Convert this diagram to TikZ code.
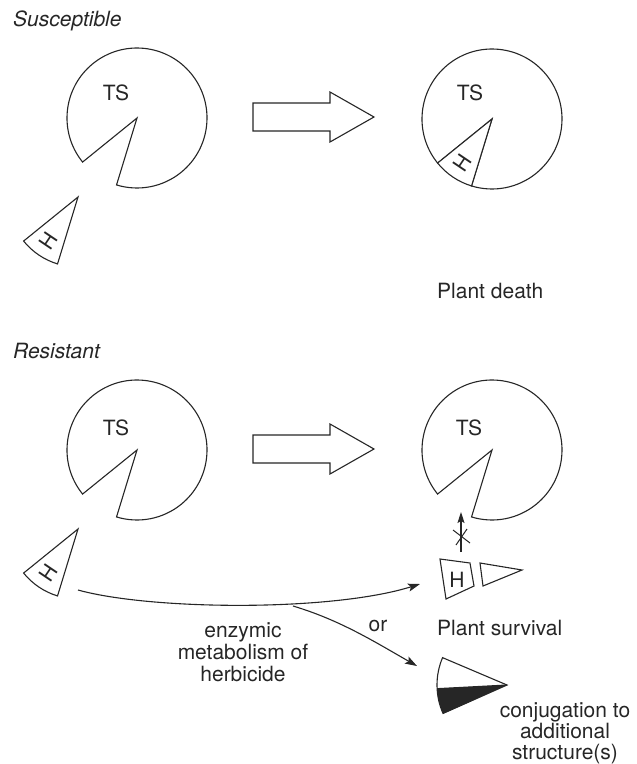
\documentclass[tikz,border=0pt]{standalone}
\usepackage{fontspec}
\setmainfont{TeX Gyre Heros}
\usetikzlibrary{arrows.meta,calc}
\definecolor{ink}{HTML}{262626}
\begin{document}
\begin{tikzpicture}[x=1pt,y=-1pt,
  outl/.style={draw=ink, line width=1.1pt, line join=miter},
  lbl/.style={font=\fontsize{21}{22}\selectfont, text=ink, inner sep=0pt},
  ttl/.style={font=\fontsize{21}{22}\selectfont\itshape, text=ink, inner sep=0pt, anchor=base west},
  conn/.style={draw=ink, line width=1.1pt, -{Stealth[length=12pt,width=8pt,inset=2.5pt]}},
  pacman/.pic={\draw[outl, fill=white] (0,0) -- (141:70) arc[start angle=141, end angle=467, radius=70] -- cycle;},
  hwedge/.pic={\draw[outl, fill=white] (0,0) -- (107:70) arc[start angle=107, end angle=141, radius=70] -- cycle;
               \node[lbl, rotate=56] at (124:53) {H};},
  blockarrow/.pic={\draw[outl, fill=white] (0,0) -- (77,0) -- (77,-11) -- (121,14) -- (77,39) -- (77,28) -- (0,28) -- cycle;}
]
\useasboundingbox (0,0) rectangle (637,764);

% ---------- Susceptible ----------
\node[ttl] (tsus) at (13,26) {Susceptible};
\pic at (137,118) {pacman};
\node[lbl, anchor=base] (ts1) at (116,100) {TS};
\pic at (78,197) {hwedge};
\pic at (253,103) {blockarrow};
\pic at (492,119) {pacman};
\pic at (492,119) {hwedge};
\node[lbl, anchor=base] (ts2) at (470,100) {TS};
\node[lbl, anchor=base west] (death) at (437,298) {Plant death};

% ---------- Resistant ----------
\node[ttl] (tres) at (13,358) {Resistant};
\pic at (137,450) {pacman};
\node[lbl, anchor=base] (ts3) at (116,435) {TS};
\pic at (78,529) {hwedge};
\pic at (253,435) {blockarrow};
\pic at (492,450) {pacman};
\node[lbl, anchor=base] (ts4) at (469,435) {TS};

% blocked arrow
\coordinate (ub) at (461,552);
\coordinate (ut) at (461,512);
\draw[draw=ink, line width=1.1pt, -{Stealth[length=11pt,width=7pt,inset=2pt]}] (ub) -- (ut);
\draw[draw=ink, line width=1pt] (453,530) -- (470,543) (456,545) -- (467,529);

% fragments
\draw[outl] (440,559) -- (470,563) -- (474,586) -- (446,599) -- cycle;
\node[lbl, anchor=center] (hfrag) at (457,580) {H};
\draw[outl] (480,563) -- (522,570) -- (483,586) -- cycle;

% conjugated herbicide
\coordinate (cj) at (507,685);
\fill[ink] (cj) -- ($(cj)+(156:70)$) arc[start angle=156, end angle=177, radius=70] -- cycle;
\draw[outl] (cj) -- ($(cj)+(203:70)$) arc[start angle=203, end angle=156, radius=70] -- cycle;
\draw[outl] (cj) -- ($(cj)+(177:70)$);

% metabolism arrows
\coordinate (ms) at (78,590);
\coordinate (me) at (420,584);
\coordinate (mb) at (293,606);
\coordinate (me2) at (417,666);
\draw[conn] (ms) .. controls (150,610) and (330,612) .. (me);
\draw[conn] (mb) .. controls (340,620) and (375,642) .. (me2);

\node[lbl, anchor=base] (or) at (378,631) {or};
\node[lbl, anchor=base] (en1) at (243,637) {enzymic};
\node[lbl, anchor=base] (en2) at (243,659) {metabolism of};
\node[lbl, anchor=base] (en3) at (243,681) {herbicide};
\node[lbl, anchor=base west] (surv) at (437,635) {Plant survival};
\node[lbl, anchor=base] (cg1) at (565,717) {conjugation to};
\node[lbl, anchor=base] (cg2) at (565,738) {additional};
\node[lbl, anchor=base] (cg3) at (565,759) {structure(s)};
\end{tikzpicture}
\end{document}
